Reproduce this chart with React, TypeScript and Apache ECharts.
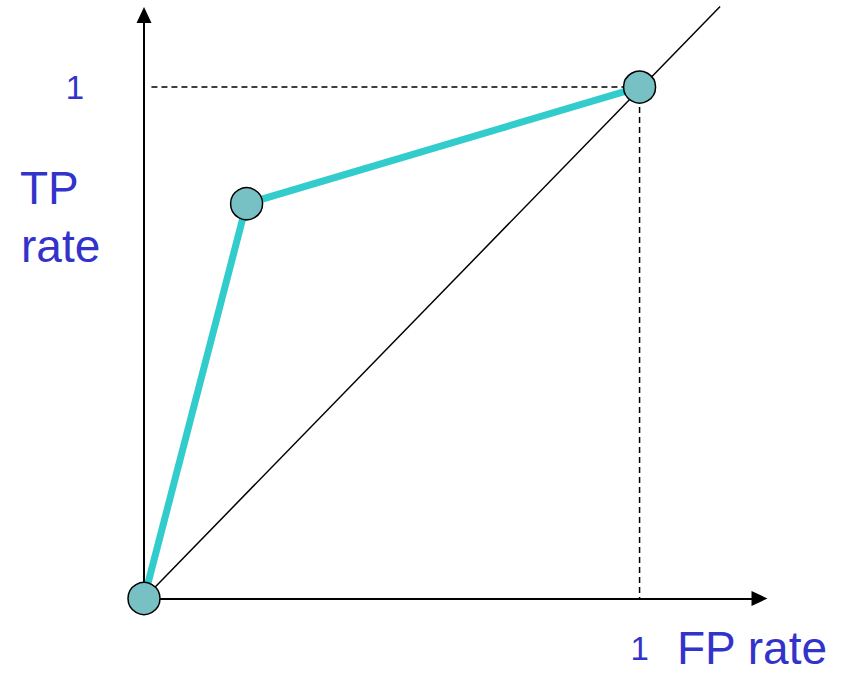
import React, { useEffect, useRef } from "react";
import * as echarts from "echarts";

const X_MAX = 1.242;
const Y_MAX = 1.141;
const TICK_LABELS = ["1"];
const rocPoints: [number, number][] = [
  [0, 0],
  [0.207, 0.772],
  [1, 1],
];
const diagonal: [number, number][] = [
  [0, 0],
  [1.1625, 1.1575],
];
const dashHorizontal: [number, number][] = [
  [0.015, 1],
  [1, 1],
];
const dashVertical: [number, number][] = [
  [1, 1],
  [1, 0],
];
const X_NAME = "FP rate";
const Y_NAME = ["TP", "rate"];

const BLUE = "#3333CC";
const FONT = "'Liberation Sans', Arial, sans-serif";

export default function App() {
  const ref = useRef<HTMLDivElement>(null);
  useEffect(() => {
    if (!ref.current) return;
    const chart = echarts.init(ref.current, null, { renderer: "svg" });
    const axisLine = {
      show: true,
      onZero: false,
      symbol: ["none", "triangle"],
      symbolSize: [15, 16],
      lineStyle: { color: "#000", width: 2 },
    };
    chart.setOption({
      animation: false,
      backgroundColor: "#fff",
      grid: { left: 144, top: 15, right: 88.5, bottom: 75.5 },
      xAxis: {
        type: "value",
        min: 0,
        max: X_MAX,
        interval: 1,
        axisLine,
        axisTick: { show: false },
        splitLine: { show: false },
        axisLabel: {
          margin: 33,
          color: BLUE,
          fontSize: 33,
          fontFamily: FONT,
          formatter: (v: number) => (v === 1 ? TICK_LABELS[0] : ""),
        },
      },
      yAxis: {
        type: "value",
        min: 0,
        max: Y_MAX,
        interval: 1,
        axisLine,
        axisTick: { show: false },
        splitLine: { show: false },
        axisLabel: {
          margin: 60,
          color: BLUE,
          fontSize: 33,
          fontFamily: FONT,
          formatter: (v: number) => (v === 1 ? TICK_LABELS[0] : ""),
        },
      },
      graphic: [
        {
          type: "text",
          x: 20,
          y: 188,
          style: {
            text: Y_NAME[0],
            fill: BLUE,
            fontSize: 46,
            fontFamily: FONT,
            verticalAlign: "middle",
            align: "left",
          },
        },
        {
          type: "text",
          x: 21,
          y: 246,
          style: {
            text: Y_NAME[1],
            fill: BLUE,
            fontSize: 46,
            fontFamily: FONT,
            verticalAlign: "middle",
            align: "left",
          },
        },
        {
          type: "text",
          x: 677,
          y: 648,
          style: {
            text: X_NAME,
            fill: BLUE,
            fontSize: 46,
            fontFamily: FONT,
            verticalAlign: "middle",
            align: "left",
          },
        },
      ],
      series: [
        {
          type: "line",
          data: diagonal,
          symbol: "none",
          clip: false,
          lineStyle: { color: "#000", width: 1.5 },
        },
        {
          type: "line",
          data: dashHorizontal,
          symbol: "none",
          lineStyle: { color: "#000", width: 1.5, type: [6, 4] },
        },
        {
          type: "line",
          data: dashVertical,
          symbol: "none",
          lineStyle: { color: "#000", width: 1.5, type: [6, 4] },
        },
        {
          type: "line",
          data: rocPoints,
          symbol: "circle",
          symbolSize: 32,
          clip: false,
          lineStyle: { color: "#33CCCC", width: 7 },
          itemStyle: { color: "#77C1C5", borderColor: "#000", borderWidth: 1.5 },
        },
      ],
    });
    return () => chart.dispose();
  }, []);
  return (
    <div
      ref={ref}
      style={{ position: "fixed", left: 0, top: 0, width: 848, height: 674 }}
    />
  );
}
